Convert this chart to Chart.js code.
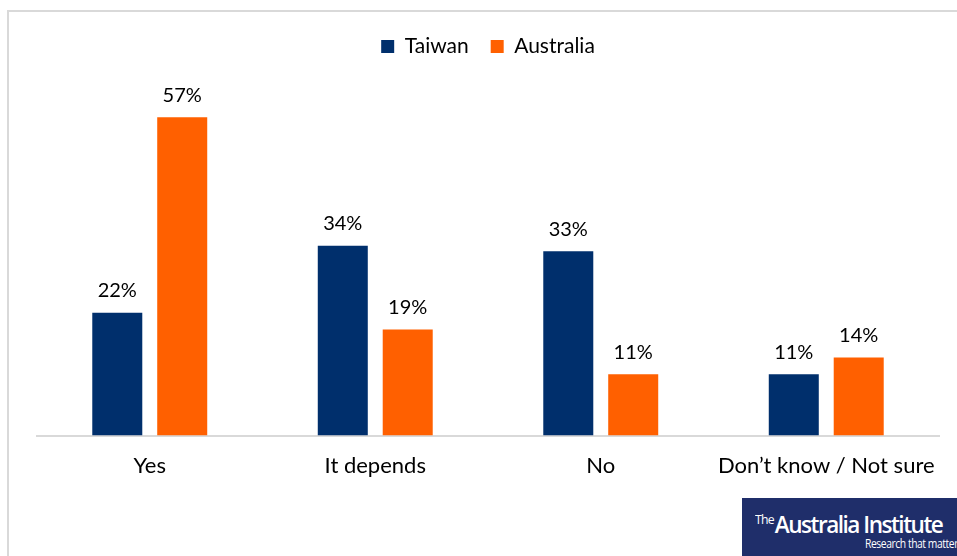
<!DOCTYPE html>
<html>
<head>
<meta charset="utf-8">
<script src="https://cdn.jsdelivr.net/npm/chart.js@4.4.1/dist/chart.umd.min.js"></script>
<style>
    html, body { margin: 0; padding: 0; background: #fff; overflow: hidden; }
    #wrap { position: relative; width: 957px; height: 556px; }
    #frame {
        position: absolute; left: 7px; top: 10px; width: 1000px; height: 600px;
        border: 2px solid #d9d9d9; box-sizing: border-box;
    }
    canvas { position: absolute; left: 0; top: 0; }
    #logo {
        position: absolute; left: 742px; top: 498px; width: 230px; height: 70px;
        background: #1f2e6a; color: #fff; font-family: "Open Sans", sans-serif;
    }
    #logo .name {
        position: absolute; left: 13px; top: 9px; font-size: 24px; letter-spacing: -1.6px;
        white-space: nowrap; font-weight: 600; transform: scaleX(0.94); transform-origin: left top;
    }
    #logo .name sup { font-size: 13px; letter-spacing: -0.8px; vertical-align: 9px; margin-right: 1px; font-weight: 400; }
    #logo .tag {
        position: absolute; left: 123px; top: 37px; font-size: 12px; letter-spacing: -0.5px;
        white-space: nowrap; transform: scaleX(0.86); transform-origin: left top;
    }
</style>
</head>
<body>
<div id="wrap">
    <div id="frame"></div>
    <canvas id="chart" width="957" height="556"></canvas>
    <div id="logo"><span class="name"><sup>The</sup>Australia Institute</span><span class="tag">Research that matters</span></div>
</div>
<script>
const categories = ["Yes", "It depends", "No", "Don\u2019t know / Not sure"]
const taiwan = [22, 34, 33, 11]
const australia = [57, 19, 11, 14]

const FONT = "Lato, 'Open Sans', sans-serif"

// draws the percentage above each bar
const valueLabels = {
    id: "valueLabels",
    afterDatasetsDraw(chart) {
        const ctx = chart.ctx
        ctx.save()
        ctx.font = `20px ${FONT}`
        ctx.fillStyle = "#000"
        ctx.textAlign = "center"
        ctx.textBaseline = "bottom"
        chart.data.datasets.forEach((dataset, i) => {
            chart.getDatasetMeta(i).data.forEach((bar, j) => {
                ctx.fillText(`${dataset.data[j]}%`, bar.x, bar.y - 12)
            })
        })
        ctx.restore()
    },
}

new Chart(document.getElementById("chart"), {
    type: "bar",
    data: {
        labels: categories,
        datasets: [
            {
                label: "Taiwan",
                data: taiwan,
                backgroundColor: "#002f6c",
                borderWidth: 0,
            },
            {
                label: "Australia",
                data: australia,
                backgroundColor: "#ff6000",
                borderWidth: 0,
            },
        ],
    },
    options: {
        responsive: false,
        animation: false,
        devicePixelRatio: 1,
        categoryPercentage: 0.576,
        barPercentage: 0.77,
        layout: {
            padding: { left: 37, right: 18, top: 14, bottom: 60 },
        },
        plugins: {
            legend: {
                position: "top",
                labels: {
                    color: "#000",
                    font: { family: FONT, size: 21 },
                    boxWidth: 13,
                    boxHeight: 13,
                    padding: 22,
                },
            },
            tooltip: { enabled: false },
        },
        scales: {
            x: {
                grid: { display: false, drawTicks: false },
                border: { display: true, color: "#d9d9d9", width: 2 },
                ticks: {
                    color: "#000",
                    font: { family: FONT, size: 22 },
                    padding: 17,
                },
            },
            y: {
                display: false,
                min: 0,
                max: 66,
            },
        },
    },
    plugins: [valueLabels],
})
</script>
</body>
</html>
